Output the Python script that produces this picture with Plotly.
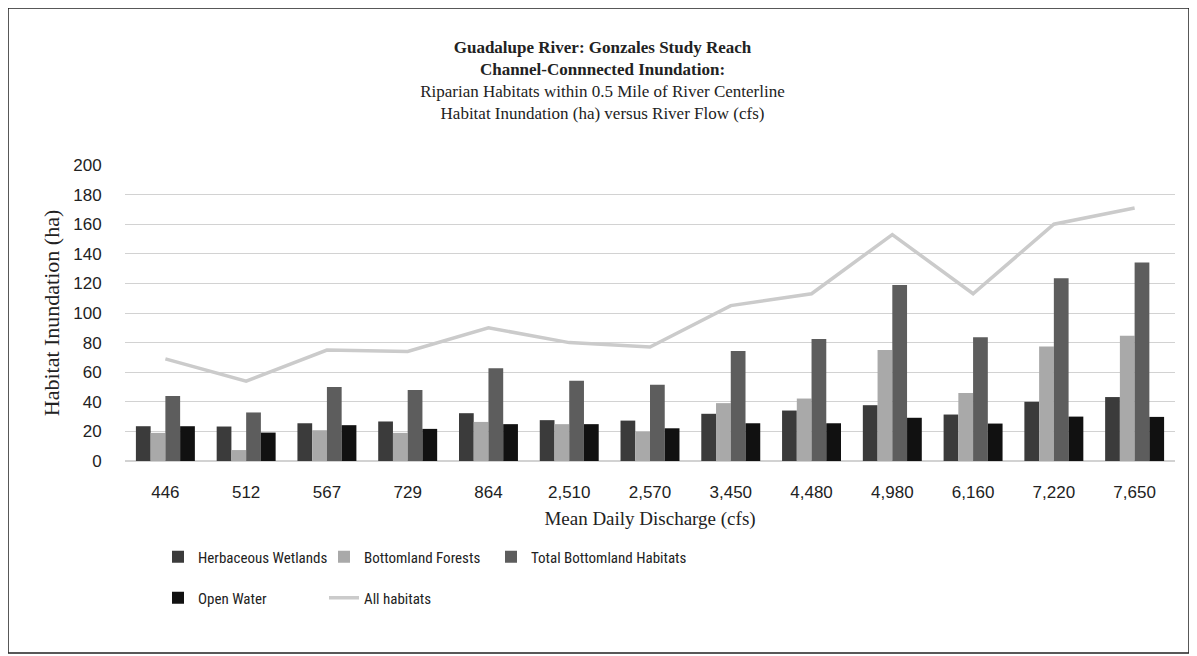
import plotly.graph_objects as go

categories = ["446", "512", "567", "729", "864", "2,510", "2,570", "3,450",
              "4,480", "4,980", "6,160", "7,220", "7,650"]
herbaceous = [23.5, 23.3, 25.5, 26.7, 32.3, 27.6, 27.3, 31.9, 34.1, 37.7, 31.4, 40.0, 43.2]
bottomland = [19.0, 7.4, 20.8, 19.0, 26.4, 24.9, 19.9, 39.1, 42.2, 75.0, 45.9, 77.3, 84.7]
total_bottom = [43.9, 32.8, 50.0, 48.0, 62.6, 54.2, 51.5, 74.3, 82.5, 118.9, 83.6, 123.4, 134.2]
open_water = [23.5, 19.2, 24.2, 21.7, 24.9, 24.9, 22.1, 25.5, 25.5, 29.2, 25.3, 30.0, 29.8]
all_habitats = [69, 54, 75, 74, 90, 80, 77, 105, 113, 153, 113, 160, 171]

# page body has an 8px margin; work in figure pixel coordinates
W, H = 1189, 648
L, R, T, B = 117, 22, 157, 195
pw, ph = W - L - R, H - T - B

sans = "Liberation Sans, Arial, sans-serif"
narrow = "Liberation Sans Narrow, Arial Narrow, Roboto Condensed, Liberation Sans, sans-serif"
serif = "Liberation Serif, Times New Roman, serif"
txt = "#222222"


def py(p):
    return (H - B - p) / ph


def px(p):
    return (p - L) / pw


fig = go.Figure()
fig.add_trace(go.Bar(x=categories, y=herbaceous, name="Herbaceous Wetlands", showlegend=True,
                     marker=dict(color="#3b3b3b", line=dict(width=0)), legend="legend"))
fig.add_trace(go.Bar(x=categories, y=bottomland, name="Bottomland Forests", showlegend=True,
                     marker=dict(color="#a9a9a9", line=dict(width=0)), legend="legend2"))
fig.add_trace(go.Bar(x=categories, y=total_bottom, name="Total Bottomland Habitats", showlegend=True,
                     marker=dict(color="#5d5d5d", line=dict(width=0)), legend="legend3"))
fig.add_trace(go.Bar(x=categories, y=open_water, name="Open Water", showlegend=True,
                     marker=dict(color="#111111", line=dict(width=0)), legend="legend4"))
fig.add_trace(go.Scatter(x=categories, y=all_habitats, name="All habitats", mode="lines",
                         showlegend=True,
                         line=dict(color="#cbcbcb", width=3.5), legend="legend5"))

fig.add_shape(type="rect", xref="paper", yref="paper",
              x0=px(0), x1=px(1181), y0=py(645), y1=py(0),
              line=dict(color="#222222", width=1.5), fillcolor="rgba(0,0,0,0)", layer="below")


def leg(xpix, ypix):
    return dict(orientation="h", x=px(xpix), xanchor="left", y=py(ypix), yanchor="middle",
                font=dict(family=narrow, size=15, color=txt), bgcolor="rgba(0,0,0,0)")


fig.update_layout(
    width=W, height=H,
    margin=dict(l=L, r=R, t=T, b=B),
    paper_bgcolor="white", plot_bgcolor="white",
    showlegend=True,
    barmode="group", bargap=0.27, bargroupgap=0.0,
    title=dict(
        text="<b>Guadalupe River: Gonzales Study Reach</b><br><b>Channel-Connnected Inundation:</b><br>"
             "Riparian Habitats within 0.5 Mile of River Centerline<br>"
             "Habitat Inundation (ha) versus River Flow (cfs)",
        x=0.5, xanchor="center", y=1 - 45 / H, yanchor="top",
        font=dict(family=serif, size=17, color=txt)),
    xaxis=dict(
        type="category", showgrid=False, showline=False, zeroline=False,
        ticks="outside", ticklen=16, tickcolor="rgba(0,0,0,0)",
        tickfont=dict(family=sans, size=17, color=txt),
        title=dict(text="Mean Daily Discharge (cfs)", standoff=10,
                   font=dict(family=serif, size=19, color=txt))),
    yaxis=dict(
        range=[0, 200], dtick=20, showgrid=True, gridcolor="#d2d2d2", gridwidth=1,
        zeroline=True, zerolinecolor="#d2d2d2", showline=False,
        ticks="outside", ticklen=19, tickcolor="rgba(0,0,0,0)",
        tickfont=dict(family=sans, size=17, color=txt),
        title=dict(text="Habitat Inundation (ha)", standoff=7,
                   font=dict(family=serif, size=22, color=txt))),
    legend=leg(150, 549),
    legend2=leg(316, 549),
    legend3=leg(483, 549),
    legend4=leg(150, 590),
    legend5=leg(316, 590),
)

fig.write_html("out.html")
